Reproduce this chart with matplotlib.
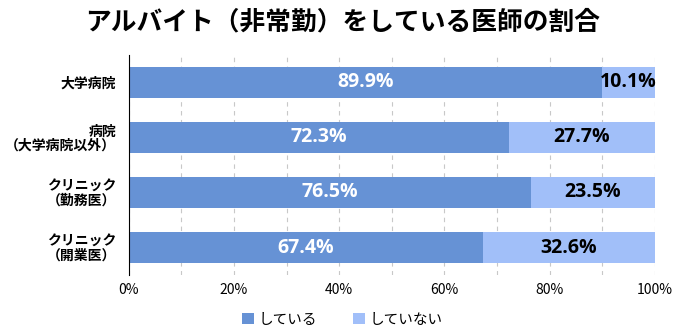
import matplotlib
matplotlib.use('Agg')
import matplotlib.pyplot as plt
import numpy as np

plt.rcParams['font.family'] = ['Noto Sans CJK JP', 'DejaVu Sans']

categories = ['大学病院', '病院\n（大学病院以外）', 'クリニック\n（勤務医）', 'クリニック\n（開業医）']
doing = [89.9, 72.3, 76.5, 67.4]
not_doing = [10.1, 27.7, 23.5, 32.6]
series_names = ['している', 'していない']
dark, light = '#6692d5', '#a1bff9'

fig = plt.figure(figsize=(6.85, 3.33), dpi=100)
ax = fig.add_axes([0.188, 0.174, 0.768, 0.662])

y = np.arange(len(categories))
ax.barh(y, doing, height=0.56, color=dark, label=series_names[0])
ax.barh(y, not_doing, left=doing, height=0.56, color=light, label=series_names[1])

for i, (a, b) in enumerate(zip(doing, not_doing)):
    ax.text(a / 2, i, f'{a}%', ha='center', va='center', color='white', fontsize=14,
            fontweight='bold', family=['Open Sans', 'DejaVu Sans'])
    ax.text(a + b / 2, i, f'{b}%', ha='center', va='center', color='black', fontsize=14,
            fontweight='bold', family=['Open Sans', 'DejaVu Sans'])

ax.set_xlim(0, 100)
ax.set_ylim(len(categories) - 0.5, -0.5)
ax.set_yticks(y)
ax.set_yticklabels(categories, fontsize=10, fontweight='bold', linespacing=1.0)
ax.set_xticks(np.arange(0, 101, 20))
ax.set_xticklabels([f'{v}%' for v in range(0, 101, 20)], fontsize=10)
ax.set_xticks(np.arange(0, 101, 10), minor=True)
ax.grid(axis='x', which='both', color='#c8c8c8', linestyle=(0, (4, 4)), linewidth=0.8)
ax.set_axisbelow(True)
ax.tick_params(axis='both', which='both', length=0)
ax.tick_params(axis='x', pad=6)
ax.tick_params(axis='y', pad=9)
for s in ['top', 'right', 'bottom']:
    ax.spines[s].set_visible(False)
ax.spines['left'].set_color('black')

fig.suptitle('アルバイト（非常勤）をしている医師の割合', x=0.5, y=0.975, fontsize=18.5, fontweight='bold')
fig.legend(loc='lower center', bbox_to_anchor=(0.5, -0.02), ncol=2, frameon=False,
           fontsize=10.5, handlelength=0.8, handleheight=0.8, handletextpad=0.3, columnspacing=2.5)

fig.savefig('out.png', dpi=100, facecolor='white')
